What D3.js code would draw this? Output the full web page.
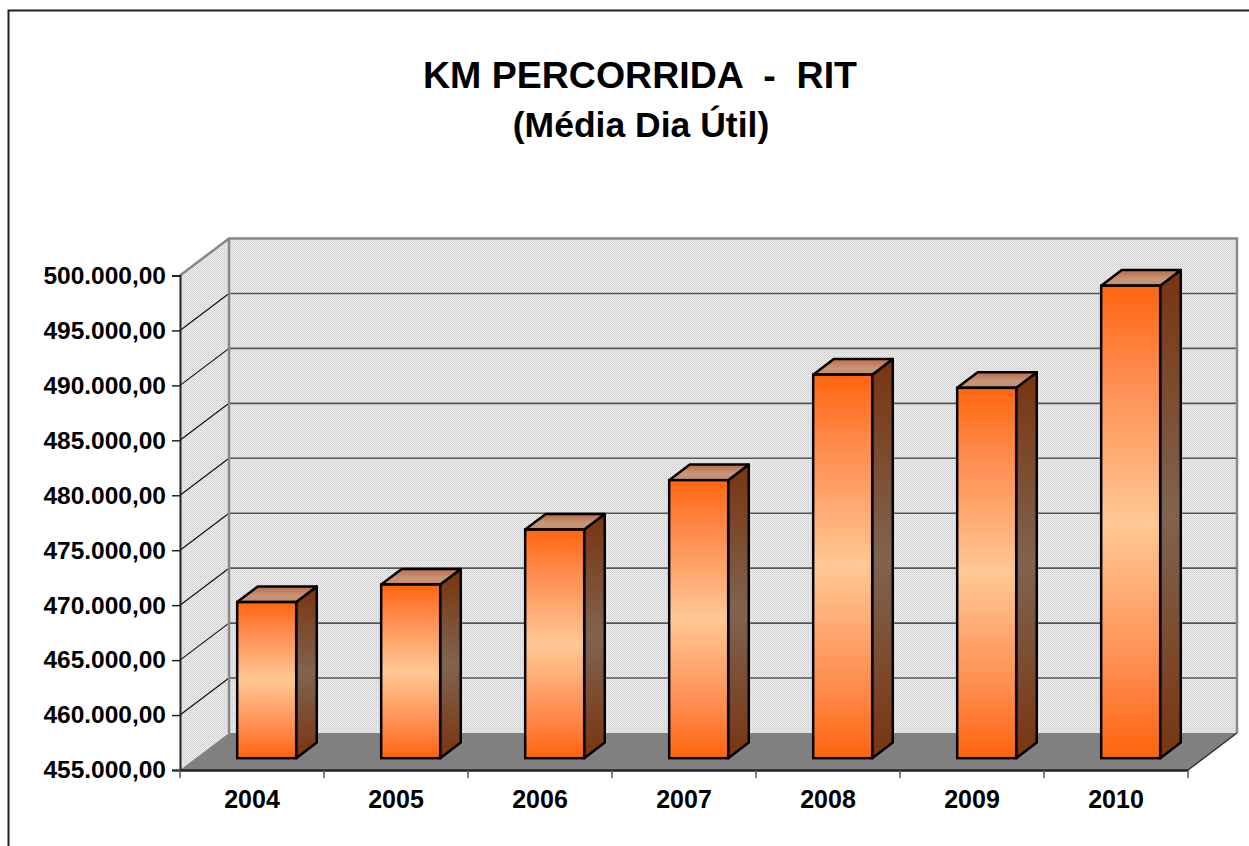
<!DOCTYPE html>
<html>
<head>
<meta charset="utf-8">
<script src="https://cdn.jsdelivr.net/npm/d3@7"></script>
<style>
	body { margin: 0; background: #fff; }
	text { font-family: "Liberation Sans", Arial, sans-serif; font-weight: bold; fill: #000; }
</style>
</head>
<body>
<div id="chart"></div>
<script>
let years	= ["2004", "2005", "2006", "2007", "2008", "2009", "2010"];
let kmDia	= [469200, 470800, 475800, 480300, 489900, 488700, 498000];
let yTicks	= [455000, 460000, 465000, 470000, 475000, 480000, 485000, 490000, 495000, 500000];
let titleLines	= ["KM PERCORRIDA  -  RIT", "(Média Dia Útil)"];

let canvasWidth		= 1249;
let canvasHeight	= 846;

// depth of the 3d box (back wall offset) and bar depth slice
let DX = 49, DY = -37;
let barFront = 0.32, barBack = 0.74;

let ptBR = d3.formatLocale({ decimal: ",", thousands: ".", grouping: [3], currency: ["R$", ""] });
let fmt = ptBR.format(",.2f");

let svg = d3.select("#chart").append("svg")
	.attr("width", canvasWidth)
	.attr("height", canvasHeight);

let defs = svg.append("defs");

// dotted wall pattern
let pat = defs.append("pattern")
	.attr("id", "wall")
	.attr("width", 2).attr("height", 2)
	.attr("patternUnits", "userSpaceOnUse");
pat.append("rect").attr("width", 2).attr("height", 2).attr("fill", "#ececec");
pat.append("rect").attr("width", 1).attr("height", 1).attr("fill", "#cfcfcf");
pat.append("rect").attr("x", 1).attr("y", 1).attr("width", 1).attr("height", 1).attr("fill", "#dcdcdc");

function vGrad(id, stops) {
	let g = defs.append("linearGradient")
		.attr("id", id)
		.attr("x1", 0).attr("y1", 0).attr("x2", 0).attr("y2", 1);
	stops.forEach(s => g.append("stop").attr("offset", s[0]).attr("stop-color", s[1]));
}
vGrad("gFront", [[0, "#ff660f"], [0.18, "#ff8a4c"], [0.5, "#ffc895"], [0.82, "#ff8a4c"], [1, "#ff640c"]]);
vGrad("gSide", [[0, "#7a3410"], [0.5, "#7f6450"], [1, "#7a3410"]]);
vGrad("gTop", [[0, "#c06a48"], [0.6, "#c4987a"], [1, "#c88a68"]]);

// frame
svg.append("rect")
	.attr("x", 8.5).attr("y", 10.5)
	.attr("width", 1260).attr("height", 860)
	.attr("fill", "none")
	.attr("stroke", "#222")
	.attr("stroke-width", 2);

// title
svg.append("text")
	.attr("x", 640).attr("y", 88)
	.attr("text-anchor", "middle")
	.style("font-size", "37.5px")
	.attr("xml:space", "preserve")
	.text(titleLines[0]);
svg.append("text")
	.attr("x", 641).attr("y", 137)
	.attr("text-anchor", "middle")
	.style("font-size", "35.5px")
	.text(titleLines[1]);

let x = d3.scaleBand().domain(years).range([180, 1188]);
let y = d3.scaleLinear().domain([455000, 500000]).range([770, 275.5]);

let x0 = x.range()[0], x1 = x.range()[1];
let yTop = y(500000), yBot = y(455000);

let pts = (arr) => arr.map(p => p.join(",")).join(" ");

// side wall
svg.append("polygon")
	.attr("points", pts([[x0, yBot], [x0 + DX, yBot + DY], [x0 + DX, yTop + DY], [x0, yTop]]))
	.attr("fill", "url(#wall)");

// back wall
svg.append("rect")
	.attr("x", x0 + DX).attr("y", yTop + DY)
	.attr("width", x1 - x0).attr("height", yBot - yTop)
	.attr("fill", "url(#wall)");

// gridlines
let grid = svg.append("g");
yTicks.filter(t => t > 455000 && t < 500000).forEach(t => {
	grid.append("line")
		.attr("x1", x0).attr("y1", y(t))
		.attr("x2", x0 + DX).attr("y2", y(t) + DY)
		.attr("stroke", "#111").attr("stroke-width", 1.2);
	grid.append("line")
		.attr("x1", x0 + DX).attr("y1", y(t) + DY)
		.attr("x2", x1 + DX).attr("y2", y(t) + DY)
		.attr("stroke", "#555").attr("stroke-width", 1.6);
});

// floor
svg.append("polygon")
	.attr("points", pts([[x0, yBot], [x1, yBot], [x1 + DX, yBot + DY], [x0 + DX, yBot + DY]]))
	.attr("fill", "#808080");

// wall edges
svg.append("path")
	.attr("d", `M${x0},${yTop}L${x0 + DX},${yTop + DY}L${x1 + DX},${yTop + DY}L${x1 + DX},${yBot + DY}`
		+ `M${x0 + DX},${yTop + DY}L${x0 + DX},${yBot + DY}`)
	.attr("fill", "none")
	.attr("stroke", "#888")
	.attr("stroke-width", 2.5);
svg.append("line")
	.attr("x1", x1).attr("y1", yBot)
	.attr("x2", x1 + DX).attr("y2", yBot + DY)
	.attr("stroke", "#333").attr("stroke-width", 1.5);

// bars
let bw = 59;
let bars = svg.selectAll("g.bar")
	.data(years.map((d, i) => ({ year: d, value: kmDia[i] })))
	.enter().append("g")
	.attr("class", "bar");

let fx = DX * barFront, fy = DY * barFront;
let bx = DX * barBack, by = DY * barBack;

bars.each(function (d) {
	let g = d3.select(this);
	let cx = x(d.year) + x.bandwidth() / 2 + fx - 1;
	let l = cx - bw / 2, r = cx + bw / 2;
	let t = y(d.value) + fy, b = yBot + fy;
	let ddx = bx - fx, ddy = by - fy;

	g.append("polygon")
		.attr("points", pts([[r, t], [r + ddx, t + ddy], [r + ddx, b + ddy], [r, b]]))
		.attr("fill", "url(#gSide)")
		.attr("stroke", "#000").attr("stroke-width", 2.5).attr("stroke-linejoin", "round");
	g.append("polygon")
		.attr("points", pts([[l, t], [l + ddx, t + ddy], [r + ddx, t + ddy], [r, t]]))
		.attr("fill", "url(#gTop)")
		.attr("stroke", "#000").attr("stroke-width", 2.5).attr("stroke-linejoin", "round");
	g.append("rect")
		.attr("x", l).attr("y", t)
		.attr("width", bw).attr("height", b - t)
		.attr("fill", "url(#gFront)")
		.attr("stroke", "#000").attr("stroke-width", 2.5);
});

// y axis
let yAxis = svg.append("g")
	.attr("transform", `translate(${x0},0)`)
	.call(d3.axisLeft(y).tickValues(yTicks).tickSize(8).tickPadding(6).tickFormat(fmt));
yAxis.select(".domain").attr("stroke", "#222").attr("stroke-width", 2);
yAxis.selectAll(".tick line").attr("stroke", "#222").attr("stroke-width", 1.5);
yAxis.selectAll("text").style("font-size", "24.5px").attr("font-family", null);

// x axis
let xAxis = svg.append("g")
	.attr("transform", `translate(0,${yBot})`)
	.call(d3.axisBottom(x).tickSize(0).tickPadding(20));
xAxis.select(".domain").attr("stroke", "#222").attr("stroke-width", 2.5);
xAxis.selectAll("text").style("font-size", "25px").attr("font-family", null);
years.concat(["end"]).forEach((d, i) => {
	let xx = i < years.length ? x(d) : x1;
	xAxis.append("line")
		.attr("x1", xx).attr("x2", xx)
		.attr("y1", 0).attr("y2", 8)
		.attr("stroke", "#555").attr("stroke-width", 1.5);
});
</script>
</body>
</html>
